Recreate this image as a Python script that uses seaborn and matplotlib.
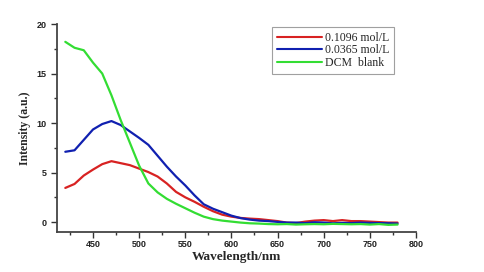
import numpy as np
import pandas as pd
import matplotlib
matplotlib.use("Agg")
import matplotlib.pyplot as plt
from matplotlib.ticker import MultipleLocator
import seaborn as sns

# ---- data ----
wavelength = list(range(420, 781, 10))

red_01096 = [3.45, 3.85, 4.7, 5.3, 5.85, 6.15, 5.95, 5.75, 5.4, 5.05,
             4.6, 3.9, 3.05, 2.5, 2.05, 1.55, 1.1, 0.75, 0.55, 0.42,
             0.35, 0.3, 0.2, 0.1, -0.05, -0.1, 0.05, 0.15, 0.2, 0.1,
             0.2, 0.1, 0.1, 0.05, 0.0, -0.05, -0.05]
blue_00365 = [7.1, 7.25, 8.3, 9.35, 9.9, 10.2, 9.8, 9.15, 8.5, 7.8,
              6.7, 5.6, 4.6, 3.7, 2.7, 1.8, 1.35, 1.0, 0.65, 0.4,
              0.25, 0.15, 0.1, 0.02, -0.05, -0.05, -0.1, -0.02, -0.05, -0.12,
              -0.08, -0.1, -0.05, -0.08, -0.1, -0.12, -0.15]
green_dcm = [18.2, 17.6, 17.35, 16.1, 15.0, 12.8, 10.3, 8.0, 5.7, 3.9,
             3.0, 2.35, 1.85, 1.4, 0.95, 0.55, 0.3, 0.15, 0.05, -0.05,
             -0.12, -0.15, -0.2, -0.22, -0.2, -0.25, -0.22, -0.2, -0.22, -0.18,
             -0.2, -0.22, -0.2, -0.25, -0.2, -0.28, -0.25]

labels = ["0.1096 mol/L", "0.0365 mol/L", "DCM  blank"]
colors = ["#d82222", "#1020b0", "#33dd33"]

df = pd.concat([
    pd.DataFrame({"wavelength": wavelength, "intensity": vals, "sample": lab})
    for vals, lab in zip([red_01096, blue_00365, green_dcm], labels)
])

sns.set_style("ticks")
plt.rcParams["font.family"] = ["Liberation Serif", "DejaVu Serif"]

fig = plt.figure(figsize=(4.84, 2.72), dpi=100)
ax = fig.add_axes([57 / 484, 40 / 272, (416 - 57) / 484, (232 - 24) / 272])

sns.lineplot(data=df, x="wavelength", y="intensity", hue="sample",
             palette=dict(zip(labels, colors)), linewidth=1.6, ax=ax,
             legend=False, sort=False)

ax.set_xlim(411, 800)
ax.set_ylim(-1.0, 20)
ax.xaxis.set_major_locator(MultipleLocator(50))
ax.xaxis.set_minor_locator(MultipleLocator(25))
ax.yaxis.set_major_locator(MultipleLocator(5))
ax.yaxis.set_minor_locator(MultipleLocator(2.5))
ax.set_xticks([450, 500, 550, 600, 650, 700, 750, 800])
ax.tick_params(which="major", length=4, width=1.0, color="#333333", direction="out")
ax.tick_params(which="minor", length=2.5, width=1.0, color="#333333", direction="out")
ax.tick_params(axis="x", which="major", pad=2)
for lab in ax.get_xticklabels() + ax.get_yticklabels():
    lab.set_fontfamily("Liberation Sans")
    lab.set_fontweight("bold")
    lab.set_fontsize(6.5)
    lab.set_color("#222222")

for side in ["top", "right"]:
    ax.spines[side].set_visible(False)
for side in ["left", "bottom"]:
    ax.spines[side].set_linewidth(1.3)
    ax.spines[side].set_color("#444444")

ax.set_xlabel("Wavelength/nm", fontsize=9.5, fontweight="bold", labelpad=1)
ax.set_ylabel("Intensity (a.u.)", fontsize=8.5, fontweight="bold", labelpad=4)

handles = [plt.Line2D([], [], color=c, linewidth=1.5) for c in colors]
leg = fig.legend(handles, labels, loc="upper left",
                 bbox_to_anchor=(272 / 484, 1 - 27 / 272),
                 fontsize=8.5, frameon=True, fancybox=False, shadow=False,
                 handlelength=3.8, handletextpad=0.3, borderpad=0.4,
                 labelspacing=0.05, borderaxespad=0)
leg.get_frame().set_edgecolor("#888888")
leg.get_frame().set_linewidth(0.8)

fig.savefig("out.png", dpi=100)
